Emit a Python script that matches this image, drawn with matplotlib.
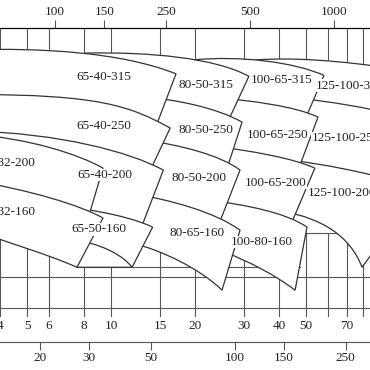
import matplotlib
matplotlib.use("Agg")
import matplotlib.pyplot as plt
from matplotlib.path import Path
from matplotlib.patches import PathPatch
from matplotlib.ticker import NullLocator

# --- 1. DATA (flow Q in L/s, head H in m) ---
# pump tiles in drawing order (right columns first, so left tiles sit on top)
TILE_NAMES = ["125-100-315", "125-100-250", "125-100-200",
              "100-65-315", "100-65-250", "100-65-200", "100-80-160",
              "80-50-315", "80-50-250", "80-50-200", "80-65-160",
              "65-40-315", "65-40-250", "65-40-200", "65-50-160",
              "50-32-200", "50-32-160"]

# top curve (large impeller): start, two bezier handles, end
TOP_Q = [[32.8, 43.8, 66.2, 109], [47.6, 60.9, 81.4, 109], [43.8, 56.1, 78.1, 128],
         [19.5, 29.0, 45.7, 58.0], [23.6, 31.5, 45.7, 55.2], [23.6, 31.5, 43.8, 53.8], [22.6, 30.2, 42.0, 50.4],
         [8.07, 13.8, 23.6, 31.2], [12.7, 17.0, 23.6, 29.5], [13.2, 17.7, 24.6, 29.0], [12.2, 16.3, 23.6, 29.0],
         [3.12, 5.57, 10.8, 17.1], [3.12, 9.13, 11.7, 16.3], [3.12, 6.56, 11.7, 15.4], [5.57, 7.74, 11.2, 14.1],
         [3.12, 5.12, 7.74, 9.36], [3.12, 5.12, 7.74, 9.36]]
TOP_H = [[150, 154, 150, 137], [105, 102, 96.9, 89.2], [59.3, 57.1, 54.0, 45.7],
         [150, 157, 147, 130], [106, 103, 97.8, 88.3], [67.5, 64.4, 60.9, 55.0], [40.9, 39.0, 36.6, 31.8],
         [160, 162, 153, 129], [107, 104, 96.9, 84.3], [71.4, 68.1, 62.1, 54.0], [43.2, 40.9, 36.6, 30.9],
         [165, 168, 162, 132], [109, 109, 97.8, 79.8], [77.6, 76.2, 63.8, 54.0], [39.8, 38.0, 35.9, 31.8],
         [75.4, 72.7, 62.1, 55.0], [49.2, 44.9, 39.0, 34.6]]

# bottom curve (small impeller): start, two bezier handles, end
BOT_Q = [[47.6, 60.9, 81.4, 104], [43.8, 56.1, 78.1, 104], [42.0, 56.1, 71.9, 79.4],
         [23.6, 31.5, 43.8, 50.4], [23.6, 31.5, 42.0, 47.6], [22.6, 30.2, 40.3, 44.5], [25.6, 31.5, 38.7, 45.7],
         [12.7, 17.0, 23.0, 26.7], [13.2, 17.7, 23.6, 26.3], [12.2, 16.3, 22.6, 24.6], [12.2, 15.0, 20.8, 25.0],
         [3.12, 9.13, 12.2, 14.6], [3.12, 6.56, 11.2, 14.0], [3.12, 5.57, 9.13, 12.9], [7.55, 8.76, 10.3, 11.9],
         [3.12, 5.12, 7.13, 8.41], [3.12, 4.35, 6.04, 7.55]]
BOT_H = [[103, 101, 95.2, 87.5], [58.2, 56.1, 53.0, 49.2], [36.6, 34.6, 29.5, 21.9],
         [104, 102, 96.1, 90.0], [66.3, 63.2, 59.8, 56.6], [40.1, 38.3, 35.9, 33.3], [25.2, 23.0, 20.4, 17.7],
         [105, 102, 95.2, 88.3], [70.0, 66.9, 61.5, 56.6], [42.4, 40.1, 35.9, 33.6], [27.2, 25.7, 21.7, 17.7],
         [106, 106, 94.3, 82.8], [76.2, 74.7, 63.8, 55.5], [40.9, 38.7, 36.6, 32.1], [21.9, 21.9, 21.9, 21.9],
         [48.3, 44.0, 39.0, 36.6], [31.2, 27.4, 24.5, 21.9]]

# inner curve drawn inside the 65-50-160 tile
INNER_Q = [8.41, 9.52, 11.0, 11.9]
INNER_H = [27.4, 26.4, 24.5, 21.9]

LABEL_Q = [71.9, 69.5, 67.3, 41.0, 39.4, 39.0, 34.8, 21.9, 21.9, 20.7, 20.3,
           9.44, 9.44, 9.52, 9.06, 4.27, 4.27]
LABEL_H = [118, 72.7, 43.6, 125, 74.7, 47.9, 27.7, 119, 78.3, 50.1, 30.1,
           128, 81.3, 51.6, 31.2, 57.6, 36.6]

LS_GRID = [4, 5, 6, 8, 10, 15, 20, 30, 40, 50, 60, 70, 80]
LS_TICKS = [4, 5, 6, 8, 10, 15, 20, 30, 40, 50, 70]
GPM_TICKS = [100, 150, 250, 500, 1000]
M3H_TICKS = [20, 30, 50, 100, 150, 250]
HEAD_LINES = [15, 20]

# --- 2. FIGURE ---
fig = plt.figure(figsize=(3.7, 3.7), dpi=100)
ax = fig.add_axes([0, 53 / 370, 1, 289 / 370])
ax.set_xscale("log")
ax.set_yscale("log")
ax.set_xlim(4.0, 84.8)
ax.set_ylim(13.8, 202)
for s in ["left", "right", "bottom"]:
    ax.spines[s].set_visible(False)
ax.spines["top"].set_linewidth(0.8)
ax.yaxis.set_visible(False)

gc = "#555555"
ink = "#333333"
font = "Liberation Serif"

# grid: upper band and lower band, tiles cover the rest
ax.vlines(LS_GRID, 116, 202, color=gc, lw=0.8, zorder=1)
ax.vlines(LS_GRID, 13.8, 30, color=gc, lw=0.8, zorder=1)
for h in HEAD_LINES:
    ax.axhline(h, color=gc, lw=0.8, zorder=1)
ax.plot([7.55, 47.6], [22, 22], color=gc, lw=0.8, zorder=1)
ax.plot([45.7, 84.8], [30, 30], color=gc, lw=0.8, zorder=1)

# --- 3. TILES ---
codes = [Path.MOVETO, Path.CURVE4, Path.CURVE4, Path.CURVE4, Path.LINETO,
         Path.CURVE4, Path.CURVE4, Path.CURVE4, Path.CLOSEPOLY]
for k in range(len(TILE_NAMES)):
    top = list(zip(TOP_Q[k], TOP_H[k]))
    bot = list(zip(BOT_Q[k], BOT_H[k]))
    verts = top + bot[::-1] + [top[0]]
    ax.add_patch(PathPatch(Path(verts, codes), facecolor="white", edgecolor=ink,
                           lw=0.9, zorder=2 + k * 0.01))

inner = Path(list(zip(INNER_Q, INNER_H)), [Path.MOVETO] + [Path.CURVE4] * 3)
ax.add_patch(PathPatch(inner, facecolor="none", edgecolor=ink, lw=0.9, zorder=3))

for name, q, h in zip(TILE_NAMES, LABEL_Q, LABEL_H):
    ax.text(q, h, name, ha="center", va="center", fontsize=9.5, family=font,
            color="#222222", zorder=5,
            bbox=dict(facecolor="white", edgecolor="none", pad=0.3))

# --- 4. SCALES ---
ax.set_xticks(LS_TICKS)
ax.set_xticklabels([str(v) for v in LS_TICKS], family=font, fontsize=9.5, color="#222222")
ax.xaxis.set_minor_locator(NullLocator())
ax.tick_params(axis="x", length=0, pad=2.5)

top_ax = ax.secondary_xaxis("top", functions=(lambda q: q * 15.85, lambda g: g / 15.85))
top_ax.set_xticks(GPM_TICKS)
top_ax.set_xticklabels([str(v) for v in GPM_TICKS], family=font, fontsize=9.5, color="#222222")
top_ax.xaxis.set_minor_locator(NullLocator())
top_ax.tick_params(length=5.8, width=0.8, color=gc, pad=1.5)
top_ax.spines["top"].set_linewidth(0.8)

bot_ax = ax.secondary_xaxis(-25 / 289, functions=(lambda q: q * 3.6, lambda m: m / 3.6))
bot_ax.set_xticks(M3H_TICKS)
bot_ax.set_xticklabels([str(v) for v in M3H_TICKS], family=font, fontsize=9.5, color="#222222")
bot_ax.xaxis.set_minor_locator(NullLocator())
bot_ax.tick_params(length=5.8, width=0.8, color=gc, pad=1.5)
bot_ax.spines["bottom"].set_linewidth(0.8)
bot_ax.spines["bottom"].set_color(gc)

fig.savefig("out.png", dpi=100)
